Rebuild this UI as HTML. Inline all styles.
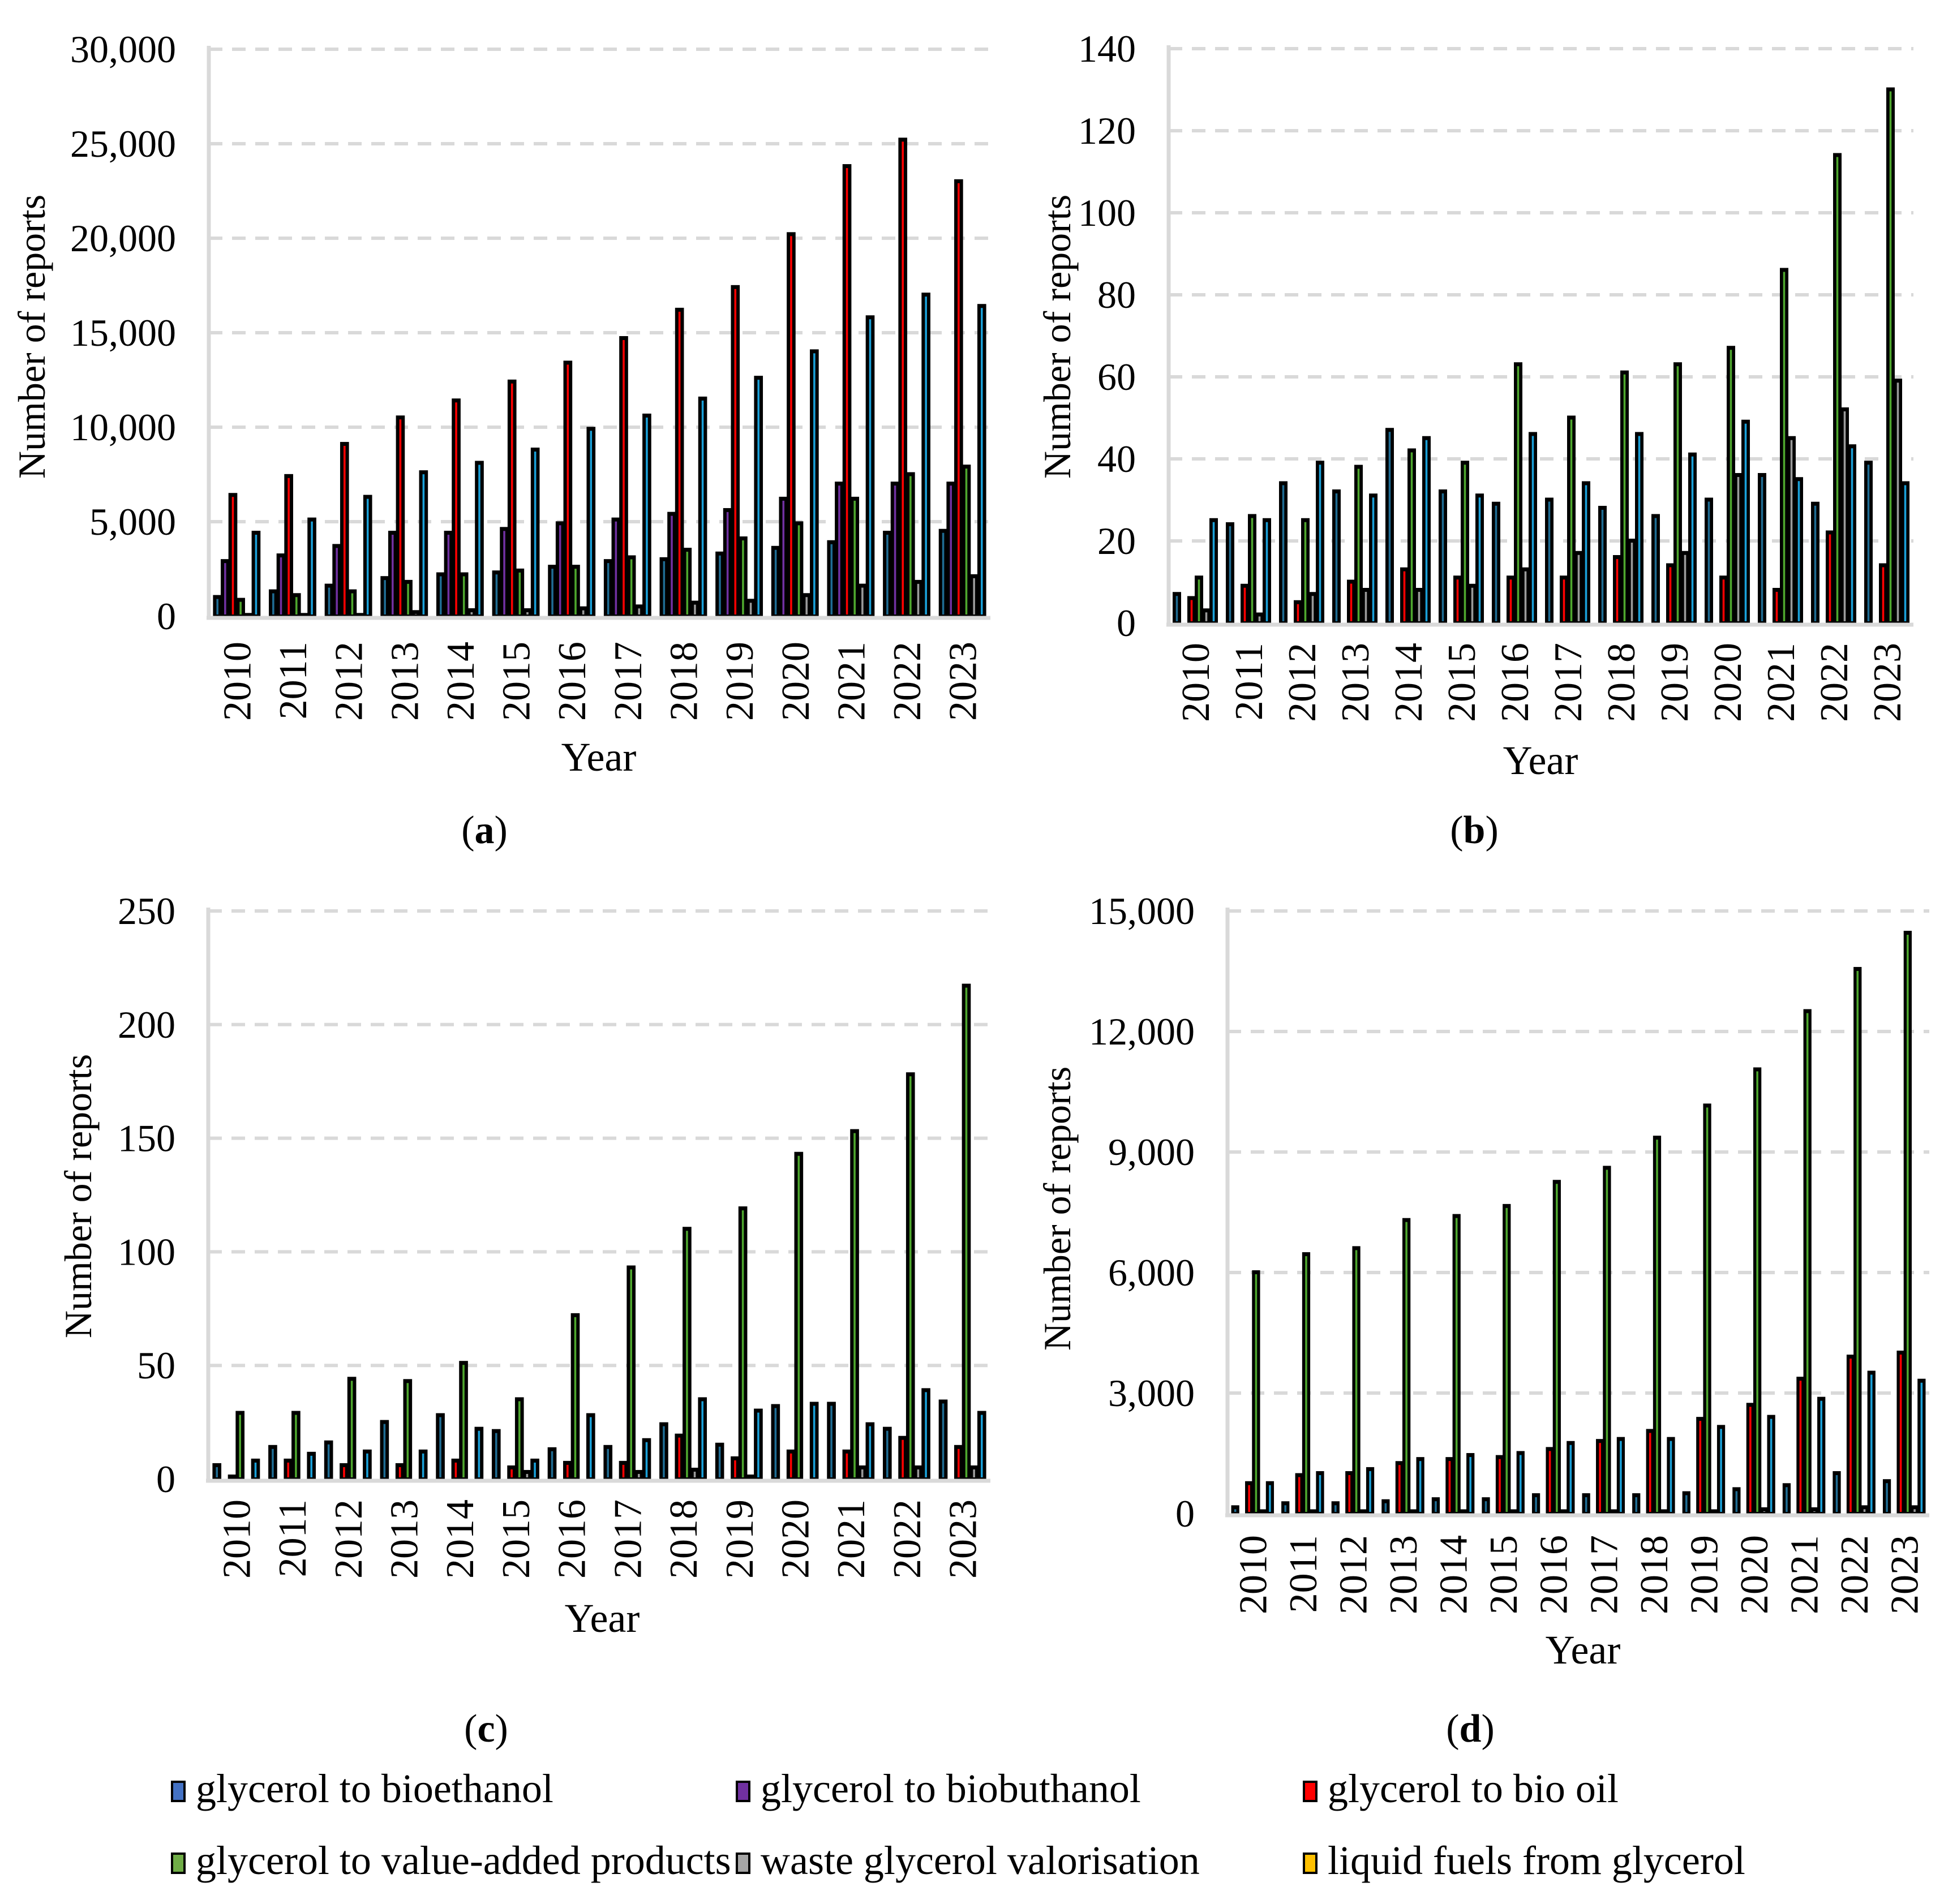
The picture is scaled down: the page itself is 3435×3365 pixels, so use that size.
<!DOCTYPE html>
<html><head><meta charset="utf-8">
<style>
html,body{margin:0;padding:0;background:#fff;}
svg{display:block;font-family:"Liberation Serif",serif;}
</style></head>
<body>
<svg id="fig" width="3435" height="3365" viewBox="0 0 3435 3365" xmlns="http://www.w3.org/2000/svg"></svg>
<script>
const years = ["2010","2011","2012","2013","2014","2015","2016","2017","2018","2019","2020","2021","2022","2023"];
const seriesNames = ["glycerol to bioethanol","glycerol to biobuthanol","glycerol to bio oil","glycerol to value-added products","waste glycerol valorisation","liquid fuels from glycerol"];
// panel a values per series
const aBioethanol = [1000,1300,1600,2000,2200,2300,2600,2900,3000,3300,3600,3900,4400,4500];
const aBiobuthanol = [2900,3200,3700,4400,4400,4600,4900,5100,5400,5600,6200,7000,7000,7000];
const aBioOil = [6400,7400,9100,10500,11400,12400,13400,14700,16200,17400,20200,23800,25200,23000];
const aValueAdded = [850,1100,1300,1800,2200,2400,2600,3100,3500,4100,4900,6200,7500,7900];
const aWaste = [50,50,50,200,300,300,400,500,700,800,1100,1600,1800,2100];
const aLiquid = [4400,5100,6300,7600,8100,8800,9900,10600,11500,12600,14000,15800,17000,16400];
const aTicks = ["0","5,000","10,000","15,000","20,000","25,000","30,000"];
// panel b
const bBioethanol = [7,24,34,32,47,32,29,30,28,26,30,36,29,39];
const bBiobuthanol = [0,0,0,0,0,0,0,0,0,0,0,0,0,0];
const bBioOil = [6,9,5,10,13,11,11,11,16,14,11,8,22,14];
const bValueAdded = [11,26,25,38,42,39,63,50,61,63,67,86,114,130];
const bWaste = [3,2,7,8,8,9,13,17,20,17,36,45,52,59];
const bLiquid = [25,25,39,31,45,31,46,34,46,41,49,35,43,34];
const bTicks = ["0","20","40","60","80","100","120","140"];
// panel c
const cBioethanol = [6,14,16,25,28,21,13,14,24,15,32,33,22,34];
const cBiobuthanol = [0,0,0,0,0,0,0,0,0,0,0,0,0,0];
const cBioOil = [1,8,6,6,8,5,7,7,19,9,12,12,18,14];
const cValueAdded = [29,29,44,43,51,35,72,93,110,119,143,153,178,217];
const cWaste = [0,0,0,0,0,3,0,3,4,1,0,5,5,5];
const cLiquid = [8,11,12,12,22,8,28,17,35,30,33,24,39,29];
const cTicks = ["0","50","100","150","200","250"];
// panel d
const dBioethanol = [150,250,250,300,350,350,450,450,450,500,600,700,1000,800];
const dBiobuthanol = [0,0,0,0,0,0,0,0,0,0,0,0,0,0];
const dBioOil = [750,950,1000,1250,1350,1400,1600,1800,2050,2350,2700,3350,3900,4000];
const dValueAdded = [6000,6450,6600,7300,7400,7650,8250,8600,9350,10150,11050,12500,13550,14450];
const dWaste = [50,50,50,50,50,50,50,50,50,50,100,100,150,150];
const dLiquid = [750,1000,1100,1350,1450,1500,1750,1850,1850,2150,2400,2850,3500,3300];
const dTicks = ["0","3,000","6,000","9,000","12,000","15,000"];

const NS="http://www.w3.org/2000/svg";
const svg=document.getElementById('fig');
const barColors=["#1f6c93","#7030a0","#ff0000","#4ea72e","#9a9a9a","#1aa0d8"];
const legendColors=["#4472c4","#7030a0","#ff0000","#70ad47","#a5a5a5","#ffc000"];
function mk(tag,attrs,parent){const e=document.createElementNS(NS,tag);for(const k in attrs)e.setAttribute(k,attrs[k]);(parent||svg).appendChild(e);return e;}

function panel(p){
  const g=mk('g',{});
  
  
  const nT=p.ticks.length-1;
  const y=v=>p.y0-(v/p.max)*(p.y0-p.yTop);
  const gw=(p.x1-p.x0)/years.length;
  const xg=i=>p.x0+i*gw;
  for(let t=1;t<=nT;t++){
    const yy=y(p.max*t/nT);
    const l=mk('line',{x1:p.x0,x2:p.x1,y1:yy,y2:yy,stroke:'#d9d9d9','stroke-width':6,'stroke-dasharray':'24 17'},g);
    
    
  }
  for(let t=0;t<=nT;t++){
    const tx=mk('text',{x:p.x0-58,y:y(p.max*t/nT)+23,'text-anchor':'end','font-size':68,fill:'#000'},g);
    tx.textContent=p.ticks[t];
    
    
  }
  const bw=gw*0.83/6;
  p.series.forEach((arr,s)=>{
    arr.forEach((v,i)=>{
      if(v<=0)return;
      const bx=xg(i)+gw*0.085+s*bw;
      const top=y(v);
      const r=mk('rect',{x:bx-1,y:top-4,width:bw+2,height:p.y0-top+4,fill:'#000'},g);
      
      
      const h=p.y0-top-6;
      if(h>0){
        const c=mk('rect',{x:bx+bw/2-1.8,y:top+3,width:3.6,height:h,fill:barColors[s]},g);
        
        
      }
    });
  });
  const ax=mk('line',{x1:p.x0,x2:p.x0,y1:p.yTop-6,y2:p.y0+4,stroke:'#d9d9d9','stroke-width':7},g);
  
  
  const bx=mk('line',{x1:p.x0-4,x2:p.x1,y1:p.y0+3,y2:p.y0+3,stroke:'#d9d9d9','stroke-width':7},g);
  
  
  years.forEach((yr,i)=>{
    const cx=xg(i)+gw/2+24;
    const ty=p.y0+p.yrOff;
    const t=mk('text',{x:0,y:0,'text-anchor':'end','font-size':70,transform:`translate(${cx},${ty}) rotate(-90)`},g);
    t.textContent=yr;
    
    
  });
  const xt=mk('text',{x:p.xtX,y:p.xtY,'text-anchor':'middle','font-size':72},g);
  xt.textContent='Year';
  
  
  const yt=mk('text',{x:0,y:0,'text-anchor':'middle','font-size':68,transform:`translate(${p.ytX+24},${p.ytY}) rotate(-90)`},g);
  yt.textContent='Number of reports';
  
  
  const pl=mk('text',{x:p.plX,y:p.plY,'text-anchor':'middle','font-size':70},g);
  pl.innerHTML='(<tspan font-weight="bold">'+p.id+'</tspan>)';
  
  
}

panel({id:'a',x0:369,x1:1750,yTop:87,y0:1089,max:30000,ticks:aTicks,series:[aBioethanol,aBiobuthanol,aBioOil,aValueAdded,aWaste,aLiquid],yrOff:45,xtX:1058,xtY:1362,ytX:55,ytY:595,plX:856,plY:1490});
panel({id:'b',x0:2065,x1:3381,yTop:86,y0:1101,max:140,ticks:bTicks,series:[bBioethanol,bBiobuthanol,bBioOil,bValueAdded,bWaste,bLiquid],yrOff:35,xtX:2722,xtY:1368,ytX:1867,ytY:595,plX:2605,plY:1490});
panel({id:'c',x0:368,x1:1750,yTop:1610,y0:2614,max:250,ticks:cTicks,series:[cBioethanol,cBiobuthanol,cBioOil,cValueAdded,cWaste,cLiquid],yrOff:36,xtX:1064,xtY:2884,ytX:137,ytY:2114,plX:859,plY:3078});
panel({id:'d',x0:2169,x1:3409,yTop:1610,y0:2675,max:15000,ticks:dTicks,series:[dBioethanol,dBiobuthanol,dBioOil,dValueAdded,dWaste,dLiquid],yrOff:38,xtX:2797,xtY:2940,ytX:1867,ytY:2136,plX:2598,plY:3078});

const legX=[304,1302,2304], legY=[3165,3292];
seriesNames.forEach((nm,i)=>{
  const col=i%3,row=Math.floor(i/3);
  const g=mk('g',{});
  
  
  mk('rect',{x:legX[col],y:legY[row]-16,width:22,height:34,fill:legendColors[i],stroke:'#000','stroke-width':4},g);
  const t=mk('text',{x:legX[col]+42,y:legY[row]+20,'font-size':72},g);
  t.textContent=nm;
  
  
});
</script>
</body></html>
